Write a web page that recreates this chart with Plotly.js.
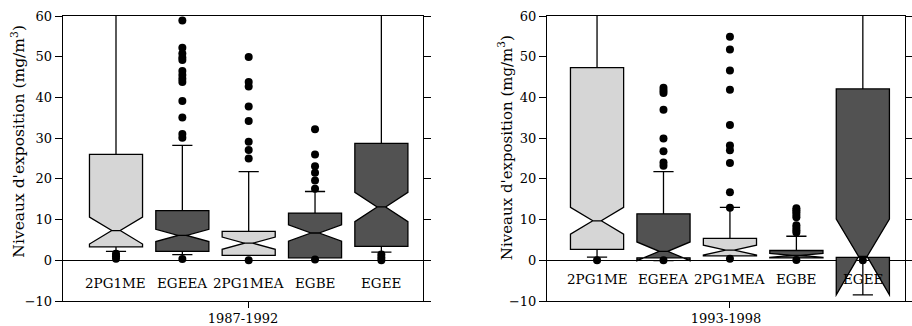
<!DOCTYPE html>
<html><head><meta charset="utf-8">
<script src="https://cdn.plot.ly/plotly-3.0.1.min.js"></script>
<style>html,body{margin:0;padding:0;background:#fff}#chart{width:912px;height:326px}</style>
</head><body><div id="chart"></div>
<script>
const categories = ['2PG1ME', 'EGEEA', '2PG1MEA', 'EGBE', 'EGEE'];
const periods = ['1987-1992', '1993-1998'];
const yTitle = "Niveaux d'exposition (mg/m<sup>3</sup>)";
const yTicks = [-10, 0, 10, 20, 30, 40, 50, 60];

// 1987-1992
const q1_1987 = [3.3, 2.2, 1.2, 0.6, 3.4];
const median_1987 = [7.3, 6.1, 4.2, 6.7, 13.1];
const q3_1987 = [26.0, 12.2, 7.1, 11.6, 28.7];
const lowerFence_1987 = [2.2, 1.4, 1.2, 0.6, 2.0];
const upperFence_1987 = [75, 28.2, 21.8, 16.9, 75];
const notch_1987 = [3.3, 1.5, 1.5, 2.0, 3.6];
const outliers_1987 = [
  [1.6, 1.0, 0.4],
  [58.9, 52.2, 50.8, 49.8, 49.2, 46.5, 45.5, 44.6, 43.8, 39.1, 35.1, 31.0, 30.1, 0.3],
  [49.9, 43.8, 42.7, 37.8, 34.2, 29.1, 27.1, 25.0, 0.0],
  [32.2, 26.0, 23.1, 21.5, 19.6, 17.6, 0.2],
  [1.4, 0.7, 0.0]
];

// 1993-1998
const q1_1993 = [2.7, 0.6, 1.1, 0.6, 0.7];
const median_1993 = [9.7, 2.2, 2.5, 1.2, 0.8];
const q3_1993 = [47.3, 11.4, 5.4, 2.4, 42.1];
const lowerFence_1993 = [0.8, 0.6, 1.1, 0.6, 0.7];
const upperFence_1993 = [75, 21.8, 13.0, 5.9, 75];
const notch_1993 = [3.3, 2.3, 1.2, 0.5, 9.3];
const outliers_1993 = [
  [0.0],
  [42.4, 41.7, 41.1, 37.0, 29.9, 26.8, 24.0, 23.2, 0.0],
  [54.9, 51.8, 46.6, 41.9, 33.2, 28.2, 27.0, 23.9, 16.7, 12.9, 0.4],
  [12.8, 12.3, 11.8, 11.2, 10.6, 8.6, 8.0, 7.4, 6.8, 0.1],
  [0.0]
];

const LIGHT = '#d6d6d6', DARK = '#525252';
const fills = [LIGHT, DARK, LIGHT, DARK, DARK];
const FONT = "'DejaVu Serif', serif";

function makeBoxes(q1, med, q3, lf, uf, nt, xa, ya) {
  return categories.map((c, i) => ({
    type: 'box', x: [c], q1: [q1[i]], median: [med[i]], q3: [q3[i]],
    lowerfence: [lf[i]], upperfence: [uf[i]], notchspan: [nt[i]],
    notched: true, notchwidth: 0.42, width: 0.8, whiskerwidth: 0.38,
    fillcolor: fills[i], line: {color: '#000', width: 1.3},
    boxpoints: false, hoverinfo: 'skip', showlegend: false,
    xaxis: xa, yaxis: ya
  }));
}
function makeOutliers(outs, xa, ya) {
  const xs = [], ys = [];
  outs.forEach((arr, i) => arr.forEach(v => { xs.push(categories[i]); ys.push(v); }));
  return {type: 'scatter', mode: 'markers', x: xs, y: ys, xaxis: xa, yaxis: ya,
    marker: {color: '#000', size: 8}, hoverinfo: 'skip', showlegend: false};
}

const data = [
  ...makeBoxes(q1_1987, median_1987, q3_1987, lowerFence_1987, upperFence_1987, notch_1987, 'x', 'y'),
  makeOutliers(outliers_1987, 'x', 'y'),
  ...makeBoxes(q1_1993, median_1993, q3_1993, lowerFence_1993, upperFence_1993, notch_1993, 'x2', 'y2'),
  makeOutliers(outliers_1993, 'x2', 'y2')
];

function xAxis(domain, range, title, anchor) {
  return {
    domain: domain, anchor: anchor, type: 'category', categoryorder: 'array', categoryarray: categories,
    range: range, showline: true, linecolor: '#000', linewidth: 1.2, mirror: true,
    ticks: 'outside', ticklen: 6, tickcolor: '#000', tickwidth: 1,
    tickmode: 'array', tickvals: [categories[2]], showticklabels: false,
    showgrid: false, zeroline: false, fixedrange: true,
    title: {text: title, font: {family: FONT, size: 13, color: '#000'}, standoff: 6}
  };
}
function yAxis(anchor) {
  return {
    domain: [0, 1], anchor: anchor, range: [-10, 60], tickmode: 'array', tickvals: yTicks,
    ticks: 'outside', ticklen: 7, tickcolor: '#000', tickwidth: 1,
    showline: true, linecolor: '#000', linewidth: 1.2, mirror: 'ticks',
    showgrid: false, zeroline: true, zerolinecolor: '#000', zerolinewidth: 1,
    tickfont: {family: FONT, size: 13, color: '#000'}
  };
}

const annotations = [];
categories.forEach(c => {
  annotations.push({x: c, y: -5.7, xref: 'x', yref: 'y', text: c, showarrow: false,
    font: {family: FONT, size: 13.5, color: '#000'}});
  annotations.push({x: c, y: -4.6, xref: 'x2', yref: 'y2', text: c, showarrow: false,
    font: {family: FONT, size: 13.5, color: '#000'}});
});
annotations.push({xref: 'paper', yref: 'paper', x: 0.020, y: 0.56, text: yTitle, textangle: -90,
  showarrow: false, xanchor: 'center', yanchor: 'middle', font: {family: FONT, size: 15.5, color: '#000'}});
annotations.push({xref: 'paper', yref: 'paper', x: 0.554, y: 0.537, text: yTitle, textangle: -90,
  showarrow: false, xanchor: 'center', yanchor: 'middle', font: {family: FONT, size: 15, color: '#000'}});

const layout = {
  width: 912, height: 326,
  margin: {l: 0, r: 0, t: 16, b: 25},
  paper_bgcolor: '#fff', plot_bgcolor: '#fff',
  showlegend: false, boxmode: 'overlay',
  font: {family: FONT, color: '#000'},
  xaxis: xAxis([0.069, 0.464], [-0.8, 4.63], periods[0], 'y'),
  yaxis: yAxis('x'),
  xaxis2: xAxis([0.600, 0.992], [-0.75, 4.63], periods[1], 'y2'),
  yaxis2: yAxis('x2'),
  annotations: annotations
};

Plotly.newPlot('chart', data, layout, {staticPlot: true, displayModeBar: false});
</script>
</body></html>
